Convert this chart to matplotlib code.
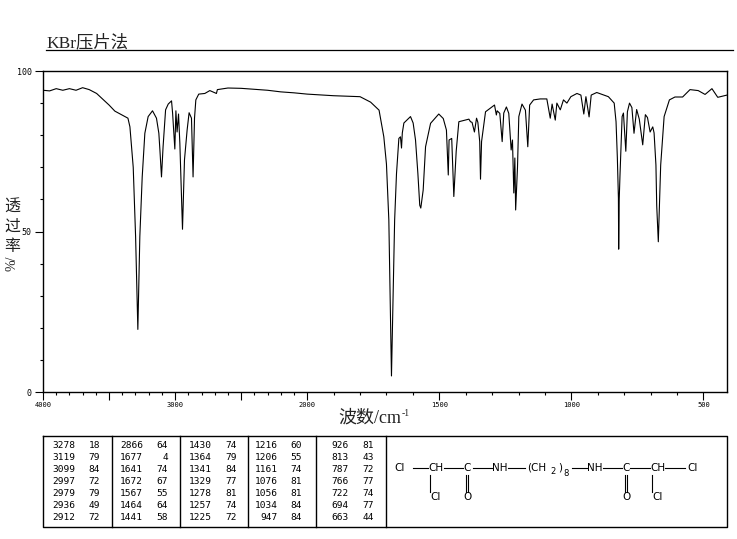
import numpy as np
import matplotlib
matplotlib.use('Agg')
import matplotlib.pyplot as plt
from matplotlib.ticker import FixedLocator, NullFormatter

# spectrum
wn_left = [4000, 3950, 3900, 3850, 3800, 3750, 3700, 3650, 3594, 3500, 3456, 3357, 3342, 3317, 3299, 3282,
           3267, 3249, 3229, 3204, 3171, 3141, 3123, 3115, 3103, 3091, 3072, 3052, 3027, 3019, 3002, 2994,
           2985, 2974, 2964, 2944, 2929, 2909, 2894, 2876, 2864, 2853, 2843, 2821, 2775, 2737, 2687, 2680,
           2600, 2500, 2400, 2300, 2200, 2100, 2000, 1900, 1800]
t_left = [94, 93.8, 94.5, 94, 94.5, 94, 94.8, 94.2, 93, 89.4, 87.5, 85.3, 82.6, 70, 48.4, 19.5,
          48.4, 67, 80.6, 85.8, 87.6, 85.3, 80.6, 75.4, 67, 76.4, 87.9, 89.7, 90.7, 86.9, 75.7, 87.6,
          81, 86.6, 77.5, 50.7, 72.3, 81.6, 87, 85.3, 67, 85.3, 91, 92.8, 93, 93.9, 93, 94.2,
          94.7, 94.6, 94.3, 94, 93.5, 93.2, 92.8, 92.3, 92]
wn_mid = [1760, 1728, 1710, 1700, 1691, 1681, 1669, 1662, 1653, 1647, 1643, 1640, 1634, 1609, 1599, 1590,
          1581, 1574, 1570, 1561, 1552, 1533, 1502, 1485, 1473, 1466, 1463, 1453, 1445, 1436, 1426, 1388,
          1382, 1376, 1367, 1359, 1354, 1347, 1344, 1340, 1325, 1291, 1284, 1281, 1271, 1262, 1256, 1246,
          1237, 1228, 1223, 1218, 1214, 1211, 1204, 1199, 1187, 1174, 1165, 1158, 1143, 1118]
t_mid = [90.3, 87.8, 79.5, 71, 53.6, 5, 53.6, 68, 79, 79.5, 76, 80.7, 83.8, 85.8, 83.8, 78.5,
         68, 58.2, 57.3, 62.9, 76.4, 83.7, 86.6, 85.2, 81.6, 67.6, 78.5, 79, 60.9, 75, 84.2, 85,
         84.2, 84, 81, 85.3, 84, 78, 66.3, 78, 87.3, 89.4, 86.3, 87.6, 86.8, 78, 86.9, 88.8,
         86.8, 75.4, 78.5, 62, 72.9, 56.7, 70, 85.8, 89.7, 87.8, 76.4, 89.4, 91, 91.3]
wn_right = [1093, 1080, 1073, 1061, 1055, 1042, 1030, 1017, 1002, 979, 964, 953, 945, 933, 925, 904,
            860, 838, 831, 826, 822, 821, 819, 816, 808, 803, 794, 788, 780, 771, 763, 753,
            743, 730, 720, 712, 702, 692, 687, 680, 677, 671, 667, 662, 649, 629, 608, 579,
            551, 520, 494, 468, 446, 411]
t_right = [91.3, 85.3, 89.7, 84.7, 90, 87.9, 91, 90, 92, 93, 92.5, 86.6, 92, 85.7, 92.5, 93.3,
           92, 90, 84.2, 72.9, 60.4, 44.5, 60, 67.6, 85.8, 86.9, 75, 87.3, 90, 88.6, 80.6, 88,
           85, 77, 86.4, 85.5, 81, 82.6, 80.7, 70.7, 58, 46.8, 57.3, 70.7, 85.8, 91, 91.9, 91.9,
           94.2, 93.9, 92.7, 94.5, 91.8, 92.5]

# peak table, one list per column
col1_wn = ['3278', '3119', '3099', '2997', '2979', '2936', '2912']
col1_t = ['18', '79', '84', '72', '79', '49', '72']
col2_wn = ['2866', '1677', '1641', '1672', '1567', '1464', '1441']
col2_t = ['64', '4', '74', '67', '55', '64', '58']
col3_wn = ['1430', '1364', '1341', '1329', '1278', '1257', '1225']
col3_t = ['74', '79', '84', '77', '81', '74', '72']
col4_wn = ['1216', '1206', '1161', '1076', '1056', '1034', '947']
col4_t = ['60', '55', '74', '81', '81', '84', '84']
col5_wn = ['926', '813', '787', '766', '722', '694', '663']
col5_t = ['81', '43', '72', '77', '74', '77', '44']

x_major = [4000, 3500, 3000, 2500, 2000, 1500, 1000, 500]
x_labels = ['4000', '', '3000', '', '2000', '1500', '1000', '500']
y_major = [0, 50, 100]


# the wavenumber axis is twice as wide below 2000
def fwd(w):
    w = np.asarray(w, dtype=float)
    return np.where(w >= 2000, w, 2000 - (2000 - w) * 2)


def inv(u):
    u = np.asarray(u, dtype=float)
    return np.where(u >= 2000, u, 2000 - (2000 - u) / 2)


W, H = 737, 539
fig = plt.figure(figsize=(W / 100, H / 100), dpi=100)
ax = fig.add_axes([43 / W, 1 - 392 / H, 684 / W, 321 / H])
ax.set_xscale('function', functions=(fwd, inv))
ax.plot(wn_left + wn_mid + wn_right, t_left + t_mid + t_right, color='k', lw=0.8)
ax.set_xlim(4000, 411)
ax.set_ylim(0, 100)
ax.xaxis.set_major_locator(FixedLocator(x_major))
ax.set_xticklabels(x_labels, family='DejaVu Sans Mono', fontsize=5)
ax.xaxis.set_minor_locator(FixedLocator(list(range(3900, 400, -100))))
ax.xaxis.set_minor_formatter(NullFormatter())
ax.set_yticks(y_major)
ax.set_yticklabels(['0', '50', '100'], family='DejaVu Sans Mono', fontsize=6)
ax.yaxis.set_minor_locator(FixedLocator(list(range(10, 100, 10))))
ax.tick_params(axis='x', which='major', length=6, width=0.8, pad=1)
ax.tick_params(axis='x', which='minor', length=2, width=0.8)
ax.tick_params(axis='y', which='major', length=6, width=0.8, pad=2)
ax.tick_params(axis='y', which='minor', length=2, width=0.8)
for s in ax.spines.values():
    s.set_linewidth(1)

# overlay in pixels for title, labels, table and formula
ov = fig.add_axes([0, 0, 1, 1])
ov.set_xlim(0, W)
ov.set_ylim(H, 0)
ov.axis('off')
ov.patch.set_alpha(0)

cjk = ['Liberation Serif', 'Noto Sans CJK SC']
ov.text(46, 47.5, 'KBr压片法', family=cjk, fontsize=12.5, va='baseline', color='#222222')
ov.plot([46, 733], [50, 50], color='k', lw=0.9)

for y, ch in zip([208, 227, 247], '透过率'):
    ov.text(12, y, ch, family=cjk, fontsize=11.5, ha='center', va='center', color='#222222')
ov.text(12, 263, '%/', family=cjk, fontsize=10, rotation=90, ha='center', va='center', color='#222222')
ov.text(338, 423, '波数/cm', family=cjk, fontsize=13, va='baseline', color='#222222')
ov.text(402, 416, '-1', family=cjk, fontsize=7, va='baseline', color='#222222')

# peak table
ov.plot([43, 727, 727, 43, 43], [435.5, 435.5, 526.5, 526.5, 435.5], color='k', lw=1)
for x in [112, 180, 248, 316, 386]:
    ov.plot([x, x], [435.5, 526.5], color='k', lw=1)

columns = [(col1_wn, col1_t, 75, 100), (col2_wn, col2_t, 143, 168), (col3_wn, col3_t, 212, 237),
           (col4_wn, col4_t, 278, 302), (col5_wn, col5_t, 349, 374)]
for wns, ts, x1, x2 in columns:
    for k in range(7):
        y = 445 + k * 12.15
        ov.text(x1, y, wns[k], family='DejaVu Sans Mono', fontsize=6.8, ha='right', va='center')
        ov.text(x2, y, ts[k], family='DejaVu Sans Mono', fontsize=6.8, ha='right', va='center')

# structure formula
y1, y2 = 468, 497
top_labels = [(400, 'Cl'), (436, 'CH'), (467.5, 'C'), (500, 'NH'), (595, 'NH'), (626.5, 'C'), (658, 'CH'), (693, 'Cl')]
for x, s in top_labels:
    ov.text(x, y1, s, family='DejaVu Sans', fontsize=7.5, ha='center', va='center')
low_labels = [(436, 'Cl'), (467.5, 'O'), (626.5, 'O'), (657.5, 'Cl')]
for x, s in low_labels:
    ov.text(x, y2, s, family='DejaVu Sans', fontsize=7.5, ha='center', va='center')
ov.text(537, y1, '(CH', family='DejaVu Sans', fontsize=7.5, ha='center', va='center')
ov.text(553, y1 + 3, '2', family='DejaVu Sans', fontsize=6, ha='center', va='center')
ov.text(560, y1, ')', family='DejaVu Sans', fontsize=7.5, ha='center', va='center')
ov.text(566, y1 + 6, '8', family='DejaVu Sans', fontsize=6, ha='center', va='center')

for x0, x1 in [(413, 428), (444, 463), (473, 492), (508, 525), (572, 587), (603, 622), (630, 650), (665, 685)]:
    ov.plot([x0, x1], [y1, y1], color='k', lw=0.8)
for x in [430, 466, 468.5, 625, 627.5, 652.5]:
    ov.plot([x, x], [475, 492], color='k', lw=0.8)

fig.savefig('out.png', dpi=100)
